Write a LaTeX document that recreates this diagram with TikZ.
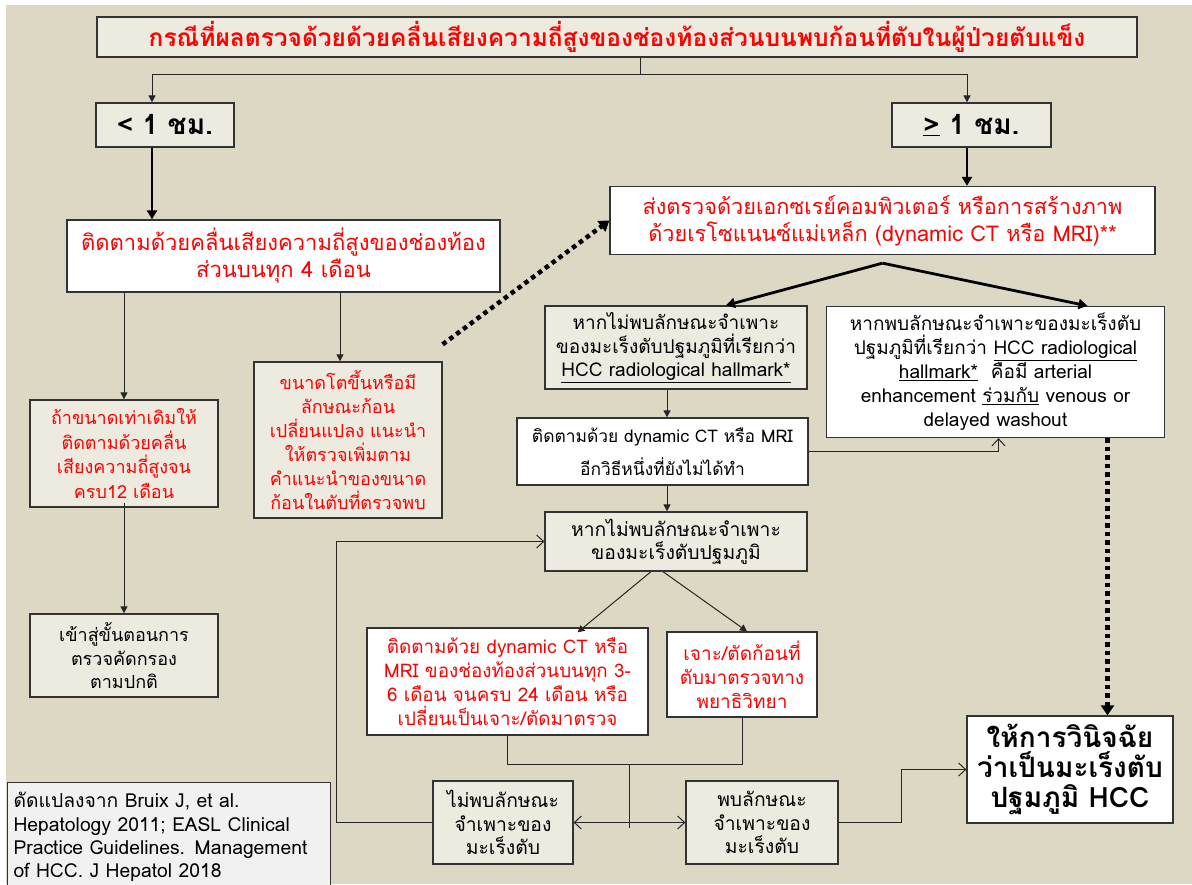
\documentclass[tikz,border=0pt]{standalone}
\usepackage{fontspec}
\setmainfont[Script=Thai]{Loma}
\usetikzlibrary{arrows.meta,calc}
\definecolor{bgbeige}{HTML}{DDD8C3}
\definecolor{boxbeige}{HTML}{EDEAE0}
\definecolor{citegrey}{HTML}{F1F1F1}
\definecolor{thred}{HTML}{FF0000}
\newcommand{\fsz}[2]{\fontsize{#1}{#2}\selectfont}
\tikzset{
  x=1pt, y=-1pt,
  box/.style={draw=black!80, line width=1.3pt, inner sep=0pt, align=center, fill=boxbeige},
  wbox/.style={box, fill=white},
  redt/.style={text=thred},
  conn/.style={line width=1pt, draw=black!85},
  farrow/.style={conn, -{Triangle[length=7pt,width=7pt]}},
  oarrow/.style={conn, -{Straight Barb[length=7pt,width=13pt]}},
  thickarrow/.style={line width=2.8pt, -{Triangle[length=9pt,width=10pt]}},
  dotarrow/.style={line width=4.5pt, dash pattern=on 4.5pt off 4pt, -{Triangle[length=10pt,width=13pt]}},
}
\begin{document}
\begin{tikzpicture}
\useasboundingbox (0,0) rectangle (1192,884);
\fill[white] (0,0) rectangle (1192,884);
\fill[bgbeige] (6,5) rectangle (1192,884);

% nodes
\node[box, minimum width=1040, minimum height=40, redt, font=\fsz{24.5}{28}\bfseries] (title) at (617,37)
  {กรณีที่ผลตรวจด้วยด้วยคลื่นเสียงความถี่สูงของช่องท้องส่วนบนพบก้อนที่ตับในผู้ป่วยตับแข็ง};
\node[box, minimum width=138, minimum height=44, font=\fsz{28}{30}\bfseries] (lt) at (165,125) {< 1 ชม.};
\node[box, minimum width=159, minimum height=44, font=\fsz{28}{30}\bfseries] (ge) at (971.5,125) {\underline{>} 1 ชม.};
\node[wbox, minimum width=433, minimum height=72, redt, font=\fsz{22}{27}] (fu) at (283.5,256)
  {ติดตามด้วยคลื่นเสียงความถี่สูงของช่องท้อง\\ส่วนบนทุก 4 เดือน};
\node[wbox, minimum width=545, minimum height=68, redt, font=\fsz{21.7}{27}] (ct) at (882.5,220.5)
  {ส่งตรวจด้วยเอกซเรย์คอมพิวเตอร์ หรือการสร้างภาพ\\ด้วยเรโซแนนซ์แม่เหล็ก (dynamic CT หรือ MRI)**};
\node[box, minimum width=262, minimum height=83, font=\fsz{19}{23.5}] (nohall) at (676,347.5)
  {หากไม่พบลักษณะจำเพาะ\\ของมะเร็งตับปฐมภูมิที่เรียกว่า\\\underline{HCC radiological hallmark*}};
\node[wbox, minimum width=338, minimum height=131, font=\fsz{19}{24}] (hall) at (995.5,372)
  {หากพบลักษณะจำเพาะของมะเร็งตับ\\ปฐมภูมิที่เรียกว่า \underline{HCC radiological}\\\underline{hallmark*}\ \ คือมี arterial\\enhancement \underline{ร่วมกับ} venous or\\delayed washout};
\node[wbox, minimum width=291, minimum height=67, font=\fsz{17.4}{33}] (dyn) at (662.5,451.5)
  {ติดตามด้วย dynamic CT หรือ MRI\\อีกวิธีหนึ่งที่ยังไม่ได้ทำ};
\node[box, minimum width=262, minimum height=59, font=\fsz{19.3}{23}] (nohcc) at (676,541.5)
  {หากไม่พบลักษณะจำเพาะ\\ของมะเร็งตับปฐมภูมิ};
\node[wbox, minimum width=281, minimum height=107, redt, font=\fsz{18.8}{24}] (fuct) at (507.5,681.5)
  {ติดตามด้วย dynamic CT หรือ\\MRI ของช่องท้องส่วนบนทุก 3-\\6 เดือน จนครบ 24 เดือน หรือ\\เปลี่ยนเป็นเจาะ/ตัดมาตรวจ};
\node[wbox, minimum width=150, minimum height=85, redt, font=\fsz{19}{24}] (bx) at (742,674.5)
  {เจาะ/ตัดก้อนที่\\ตับมาตรวจทาง\\พยาธิวิทยา};
\node[box, minimum width=140, minimum height=83, font=\fsz{19.3}{23.3}] (notfound) at (503,822.5)
  {ไม่พบลักษณะ\\จำเพาะของ\\มะเร็งตับ};
\node[box, minimum width=152, minimum height=83, font=\fsz{19.3}{23.3}] (found) at (762,822.5)
  {พบลักษณะ\\จำเพาะของ\\มะเร็งตับ};
\node[wbox, minimum width=206, minimum height=107, font=\fsz{28}{30}\bfseries] (dx) at (1070,769.5)
  {ให้การวินิจฉัย\\ว่าเป็นมะเร็งตับ\\ปฐมภูมิ HCC};
\node[box, minimum width=188, minimum height=107, redt, font=\fsz{18}{24.5}] (same) at (124,453.5)
  {ถ้าขนาดเท่าเดิมให้\\ติดตามด้วยคลื่น\\เสียงความถี่สูงจน\\ครบ12 เดือน};
\node[box, minimum width=188, minimum height=156, redt, font=\fsz{18}{24}] (grow) at (348,440)
  {ขนาดโตขึ้นหรือมี\\ลักษณะก้อน\\เปลี่ยนแปลง แนะนำ\\ให้ตรวจเพิ่มตาม\\คำแนะนำของขนาด\\ก้อนในตับที่ตรวจพบ};
\node[box, minimum width=188, minimum height=83, font=\fsz{18}{23.3}] (screen) at (124,655.5)
  {เข้าสู่ขั้นตอนการ\\ตรวจคัดกรอง\\ตามปกติ};
\node[box, fill=citegrey, line width=1pt, minimum width=323, minimum height=110, align=left,
  text width=310, font=\fsz{19.3}{23.4}] (cite) at (168.5,837)
  {ดัดแปลงจาก Bruix J, et al.\\Hepatology 2011; EASL Clinical\\Practice Guidelines. Management\\of HCC. J Hepatol 2018};

% connectors
\coordinate (j1) at (640,74);
\draw[conn] (title.south -| j1) -- (j1);
\draw[farrow] (j1) -| ([xshift=-13]lt.north);
\draw[farrow] (j1) -| ([xshift=-4.5]ge.north);
\draw[thickarrow] ([xshift=-13]lt.south) -- ([xshift=-13]lt.south |- fu.north);
\draw[thickarrow] ([xshift=-4.5]ge.south) -- ([xshift=-4.5]ge.south |- ct.north);
\coordinate (apex) at ([yshift=-8]ct.south);
\draw[thickarrow] (apex) -- ([xshift=50]nohall.north);
\draw[thickarrow] (apex) -- ([xshift=92]hall.north);
\draw[farrow] ([xshift=-9]nohall.south) -- ([xshift=-9]nohall.south |- dyn.north);
\draw[oarrow] (dyn.east) -| ([xshift=3]hall.south);
\draw[farrow] ([xshift=-9]nohall.south |- dyn.south) -- ([xshift=-9]nohcc.north);
\draw[farrow] ([xshift=-25]nohcc.south) -- ([xshift=70,yshift=-5]fuct.north);
\draw[farrow] ([xshift=-13]nohcc.south) -- ([xshift=5]bx.north);
\coordinate (jn) at (629,764);
\draw[conn] (fuct.south) |- (jn) -| (bx.south);
\draw[conn] (jn) -- ([yshift=-5]jn |- notfound.east);
\draw[conn, {Straight Barb[length=7pt,width=13pt]}-{Straight Barb[length=7pt,width=13pt]}] (notfound.east) -- (found.west);
\draw[oarrow] (notfound.west) -- ++(-96,0) |- (nohcc.west);
\draw[oarrow] (found.east) -- ++(63,0) |- (dx.west);
\draw[dotarrow] ([xshift=112]hall.south) -- ([xshift=112]hall.south |- dx.north);
\draw[dotarrow] ([yshift=17]grow.north east) -- (ct.west);
\draw[farrow] (same.north |- fu.south) -- (same.north);
\draw[farrow] ([xshift=-8]grow.north |- fu.south) -- ([xshift=-8]grow.north);
\draw[farrow] ([yshift=5]same.south) -- (screen.north);
\end{tikzpicture}
\end{document}
